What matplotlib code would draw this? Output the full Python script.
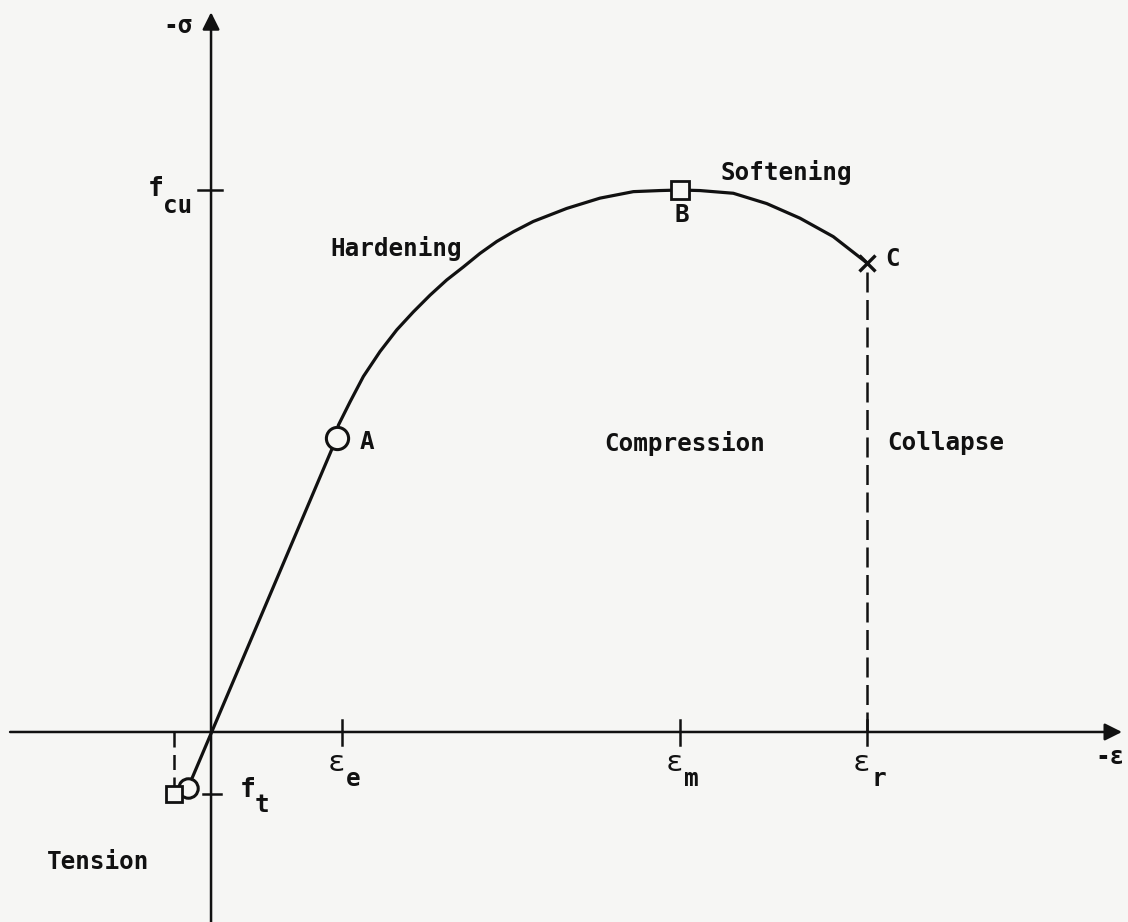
import matplotlib
matplotlib.use("Agg")
import matplotlib.pyplot as plt

# strain in units of eps_e, stress in units of f_cu (compression positive)
eps_e, eps_m, eps_r = 1.0, 3.58, 5.01
f_cu, f_t = 1.0, -0.115

# tension point and elastic limit A
elastic_eps = [-0.176, 0.958]
elastic_sig = [-0.103, 0.542]

# hardening (A -> B) and softening (B -> C) branch
curve_eps = [0.958, 0.972, 1.061, 1.163, 1.290, 1.418, 1.544, 1.672, 1.799,
             1.926, 2.053, 2.181, 2.308, 2.460, 2.715, 2.969, 3.224, 3.427,
             3.58, 3.733, 3.987, 4.242, 4.496, 4.750, 5.01]
curve_sig = [0.542, 0.566, 0.609, 0.656, 0.702, 0.742, 0.775, 0.806, 0.834,
             0.858, 0.883, 0.905, 0.923, 0.942, 0.966, 0.985, 0.997, 0.999,
             1.0, 0.999, 0.994, 0.975, 0.948, 0.914, 0.865]

point_A = (0.958, 0.542)
point_B = (3.58, 1.0)
point_C = (5.01, 0.865)
tension_square = (-0.28, f_t)
tension_circle = (-0.176, -0.103)

bg = "#f6f6f4"
ink = "#111111"
font = dict(family="DejaVu Sans Mono", fontsize=17.5, fontweight="bold", color=ink)

fig = plt.figure(figsize=(11.28, 9.22), dpi=100, facecolor=bg)
ax = fig.add_axes([0, 0, 1, 1])
ax.set_facecolor(bg)
ax.set_xlim(-1.611, 7.0)
ax.set_ylim(-0.3506, 1.3506)
ax.axis("off")

# axes with arrow heads
arrow = dict(arrowstyle="-|>", lw=1.8, color=ink, mutation_scale=26, shrinkA=0, shrinkB=0)
ax.annotate("", xy=(6.954, 0), xytext=(-1.534, 0), arrowprops=arrow)
ax.annotate("", xy=(0, 1.328), xytext=(0, -0.36), arrowprops=arrow)

# tick marks
for e in (eps_e, eps_m, eps_r):
    ax.plot([e, e], [-0.024, 0.022], color=ink, lw=1.8)
ax.plot([-0.099, 0.084], [f_cu, f_cu], color=ink, lw=1.8)
ax.plot([-0.061, 0.076], [f_t, f_t], color=ink, lw=1.8)

# dashed drops to the strain axis
ax.plot([eps_r, eps_r], [0, point_C[1]], color=ink, lw=1.8, ls=(0, (8, 3)))
ax.plot([tension_square[0]] * 2, [0, tension_square[1]], color=ink, lw=1.8, ls=(0, (6, 3)))

# stress-strain curve
ax.plot(elastic_eps, elastic_sig, color=ink, lw=2.3, solid_capstyle="round")
ax.plot(curve_eps, curve_sig, color=ink, lw=2.3, solid_joinstyle="round")

# markers
ax.plot(*point_A, marker="o", ms=16, mfc=bg, mec=ink, mew=2.2, zorder=5)
ax.plot(*point_B, marker="s", ms=13, mfc=bg, mec=ink, mew=2.0, zorder=5)
ax.plot(*point_C, marker="x", ms=12, mec=ink, mew=2.4, zorder=5)
ax.plot(*tension_circle, marker="o", ms=14, mfc=bg, mec=ink, mew=2.2, zorder=5)
ax.plot(*tension_square, marker="s", ms=12, mfc=bg, mec=ink, mew=2.0, zorder=6)

c = dict(ha="center", va="center", **font)
ax.text(-0.252, 1.303, "-σ", **c)
ax.text(-0.420, 1.002, "f", **{**c, "fontsize": 19})
ax.text(-0.252, 0.970, "cu", **c)
ax.text(0.282, -0.107, "f", **{**c, "fontsize": 19})
ax.text(0.389, -0.135, "t", **c)
ax.text(6.863, -0.046, "-ε", **c)
for e, sub in ((eps_e, "e"), (eps_m, "m"), (eps_r, "r")):
    ax.text(e - 0.045, -0.057, "ε", **{**c, "fontsize": 21, "fontweight": "normal"})
    ax.text(e + 0.085, -0.087, sub, **c)

ax.text(1.412, 0.893, "Hardening", **c)
ax.text(4.389, 1.033, "Softening", **c)
ax.text(1.191, 0.535, "A", **c)
ax.text(3.595, 0.954, "B", **c)
ax.text(5.206, 0.873, "C", **c)
ax.text(3.618, 0.533, "Compression", **c)
ax.text(5.611, 0.533, "Collapse", **c)
ax.text(-0.863, -0.240, "Tension", **c)

fig.savefig("out.png", dpi=100, facecolor=bg)
